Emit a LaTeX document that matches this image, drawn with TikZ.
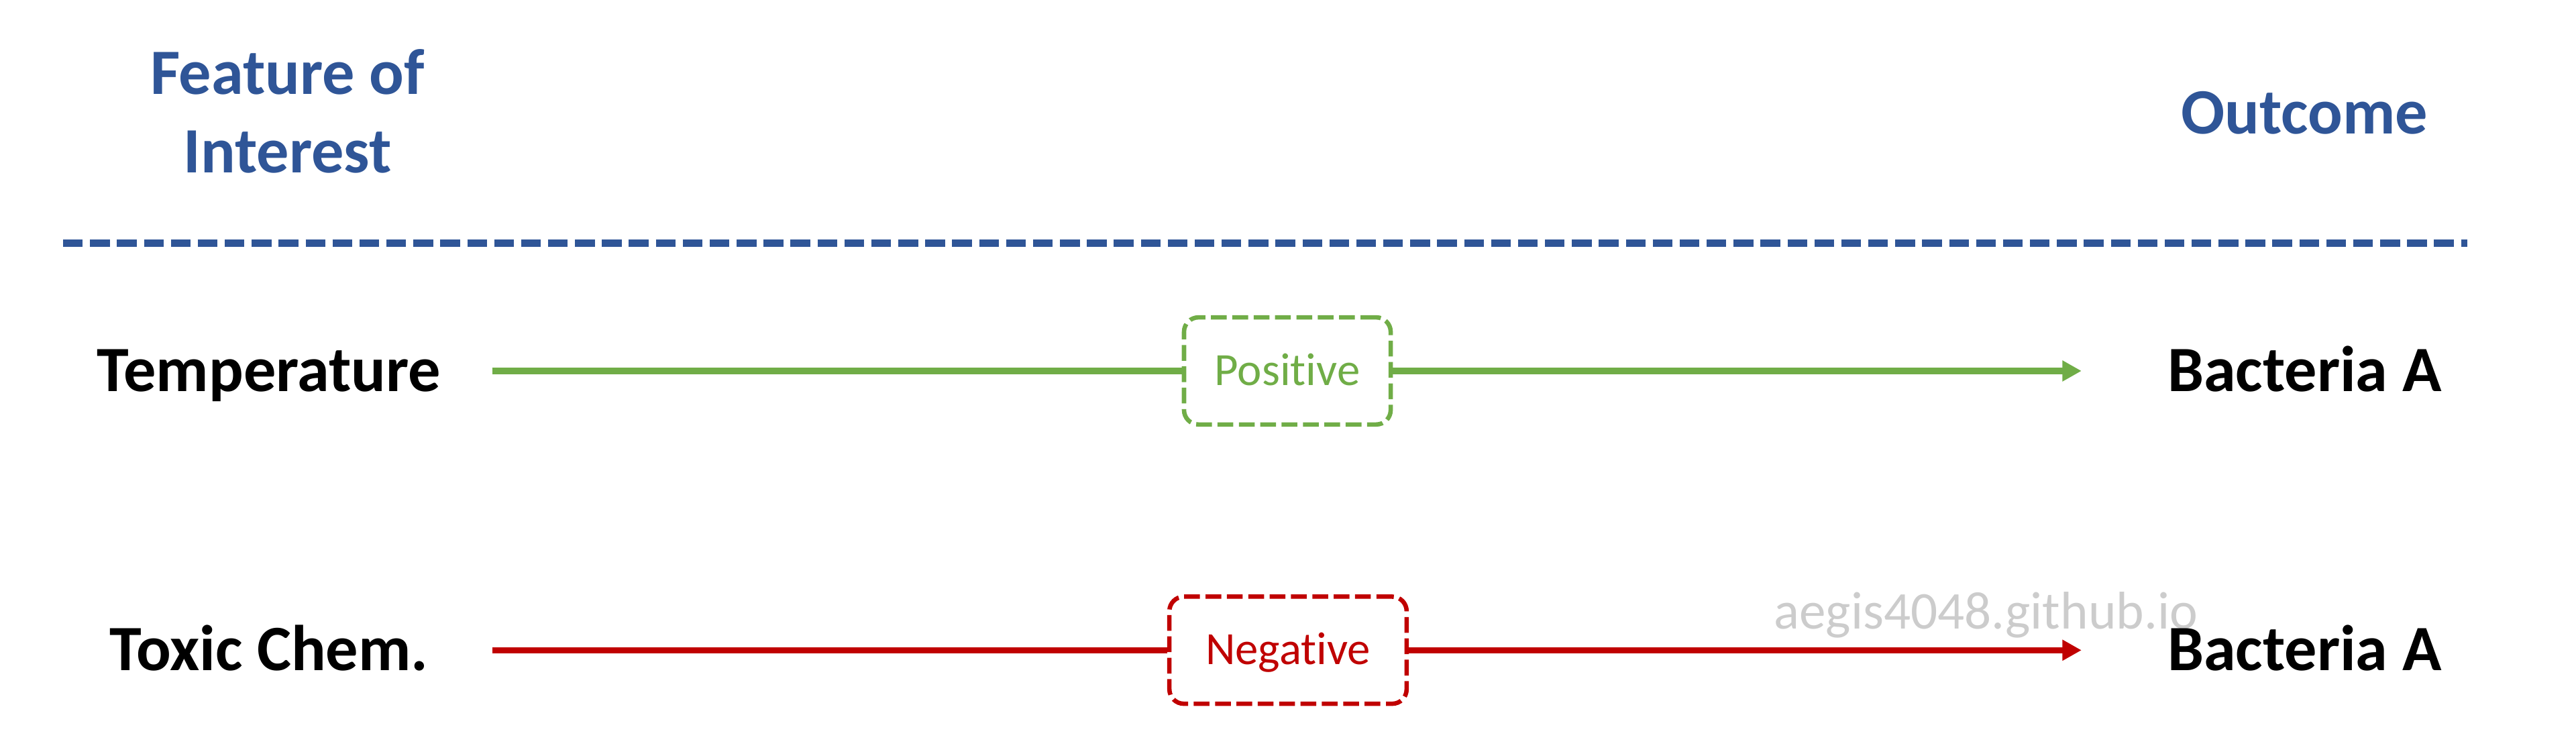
\documentclass[tikz,border=0pt]{standalone}
\usepackage{fontspec}
\setmainfont{Carlito}[Ligatures=NoCommon]
\usetikzlibrary{arrows.meta}
\definecolor{headblue}{HTML}{2F5597}
\definecolor{posgreen}{HTML}{70AD47}
\definecolor{negred}{HTML}{C00000}
\tikzset{
  heading/.style={font=\bfseries\fontsize{28}{34}\selectfont, text=headblue, inner sep=0pt, align=center},
  varname/.style={font=\bfseries\fontsize{28}{33.4}\selectfont, inner sep=0pt, text height=17.7pt, text depth=0pt},
  effectbox/.style={draw=#1, text=#1, fill=white, line width=1.9pt, rounded corners=0.22cm,
    dash pattern=on 0.24cm off 0.085cm, minimum height=1.63cm, inner sep=0pt,
    font=\fontsize{20}{24}\selectfont, text height=12.6pt, text depth=0pt},
  effectline/.style={draw=#1, line width=2.7pt, -{Triangle[length=0.29cm,width=0.30cm]}},
  sepline/.style={draw=headblue, line width=3.1pt, dash pattern=on 0.3cm off 0.11cm}
}
\begin{document}
\begin{tikzpicture}[thick]
    \useasboundingbox (0,0) rectangle (39.2,11.495);

    % coordinates to be reused
    \coordinate (sepL) at (0.96,7.795);
    \coordinate (sepR) at (37.55,7.795);
    \coordinate (posS) at (7.49,5.85);
    \coordinate (posE) at (31.675,5.85);
    \coordinate (negS) at (7.49,1.6);
    \coordinate (negE) at (31.675,1.6);

    % headings
    \node [heading, anchor=south] (feat) at (4.375,8.84) {Feature of\\Interest};
    \node [heading, text height=17.7pt, text depth=0pt] (outc) at (35.07,9.77) {Outcome};
    \draw [sepline] (sepL) -- (sepR);

    % add labels
    \node [varname] (temp) at (4.095,5.85) {Temperature};
    \node [varname] (toxic) at (4.095,1.6) {Toxic Chem.};
    \node [varname] (bacA) at (35.07,5.85) {Bacteria A};
    \node [varname] (bacB) at (35.07,1.6) {Bacteria A};

    % effect boxes and arrows
    \node [effectbox=posgreen, minimum width=3.145cm] (pos) at (19.59,5.85) {Positive};
    \node [effectbox=negred, minimum width=3.61cm] (neg) at (19.6,1.6) {Negative};
    \draw [effectline=posgreen] (posS) -- (pos) -- (posE);
    \draw [effectline=negred] (negS) -- (neg) -- (negE);

    % watermark
    \node [anchor=base, font=\fontsize{23}{27}\selectfont, text=black, text opacity=0.2] (wm) at (30.22,1.92) {aegis4048.github.io};
\end{tikzpicture}
\end{document}
